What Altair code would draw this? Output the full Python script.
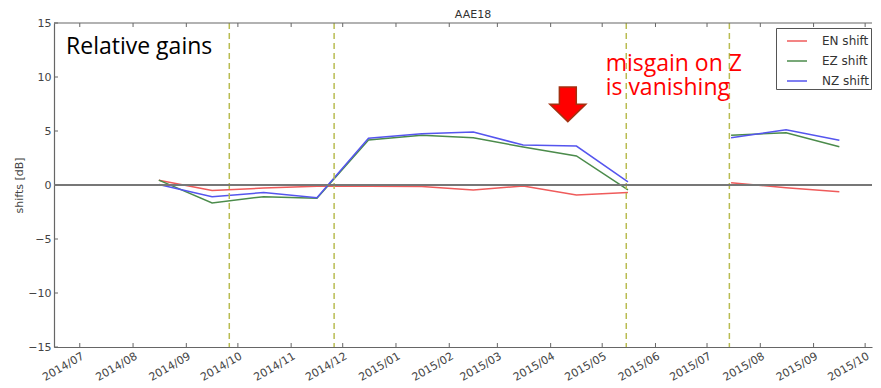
import altair as alt
import pandas as pd

# ---------------- data ----------------
dates = ["2014-08-16", "2014-09-16", "2014-10-16", "2014-11-16", "2014-12-16",
         "2015-01-16", "2015-02-15", "2015-03-16", "2015-04-16", "2015-05-16",
         "2015-07-15", "2015-08-16", "2015-09-16"]
segment = [0, 0, 0, 0, 0, 0, 0, 0, 0, 0, 1, 1, 1]
en_shift = [0.45, -0.50, -0.28, -0.12, -0.12, -0.15, -0.46, -0.10, -0.93, -0.70, 0.21, -0.25, -0.62]
ez_shift = [0.45, -1.67, -1.08, -1.23, 4.17, 4.60, 4.38, 3.52, 2.69, -0.46, 4.60, 4.84, 3.55]
nz_shift = [0.05, -1.08, -0.70, -1.17, 4.32, 4.75, 4.90, 3.70, 3.60, 0.30, 4.38, 5.12, 4.14]

series_names = ["EN shift", "EZ shift", "NZ shift"]
series_colors = ["#ef5b5b", "#4b8b4b", "#5555ee"]

event_dates = ["2014-09-26", "2014-11-26", "2015-05-15", "2015-07-14"]
month_starts = ["2014-07-01", "2014-08-01", "2014-09-01", "2014-10-01", "2014-11-01",
                "2014-12-01", "2015-01-01", "2015-02-01", "2015-03-01", "2015-04-01",
                "2015-05-01", "2015-06-01", "2015-07-01", "2015-08-01", "2015-09-01",
                "2015-10-01"]
y_ticks = [-15, -10, -5, 0, 5, 10, 15]

title_text = "AAE18"
y_title = "shifts [dB]"
note_black = ["Relative gains"]
note_black_date = ["2014-06-23"]
note_black_value = [12.1]
note_red = ["misgain on Z\nis vanishing"]
note_red_date = ["2015-05-03"]
note_red_value = [10.6]
arrow_date = ["2015-04-11"]
arrow_value = [7.47]

# ---------------- tables ----------------
rows = []
for name, vals in zip(series_names, [en_shift, ez_shift, nz_shift]):
    for d, s, v in zip(dates, segment, vals):
        rows.append({"date": d, "seg": f"{name}-{s}", "series": name, "value": v})
df = pd.DataFrame(rows)

W, H = 818, 324
FRAME = "#666666"

xscale = alt.Scale(type="utc", domain=[alt.DateTime(year=2014, month=6, date=16, utc=True),
                                       alt.DateTime(year=2015, month=10, date=5, utc=True)])
yscale = alt.Scale(domain=[-15, 15], nice=False, zero=False)

month_vals = [alt.DateTime(year=int(m[:4]), month=int(m[5:7]), date=1, utc=True) for m in month_starts]

x_axis = alt.Axis(title=None, values=month_vals, labelExpr="utcFormat(datum.value, '%Y/%m')",
                  labelAngle=330, labelAlign="right", labelBaseline="top",
                  labelFont="DejaVu Sans", labelFontSize=11, labelColor="#444444",
                  labelPadding=3, labelOverlap=False, labelFlush=False,
                  ticks=False, domain=True, domainColor=FRAME, domainWidth=1.2, grid=False)
y_axis = alt.Axis(title=y_title, values=y_ticks, titleFont="DejaVu Sans", titleFontSize=11,
                  titleFontWeight="normal", titleColor="#444444", titlePadding=3,
                  labelFont="DejaVu Sans", labelFontSize=11, labelColor="#444444",
                  labelPadding=3, ticks=False, domain=True, domainColor=FRAME,
                  domainWidth=1.2, grid=False)


def X(field):
    return alt.X(field, scale=xscale, axis=x_axis)


def Y(field):
    return alt.Y(field, scale=yscale, axis=y_axis)


lines = alt.Chart(df).mark_line(strokeWidth=1.5).encode(
    x=X("date:T"),
    y=Y("value:Q"),
    color=alt.Color("series:N", scale=alt.Scale(domain=series_names, range=series_colors),
                    legend=alt.Legend(title=None, orient="none", legendX=722, legendY=5,
                                      direction="vertical", symbolType="stroke",
                                      symbolSize=400, symbolStrokeWidth=1.5,
                                      labelFont="DejaVu Sans", labelFontSize=12,
                                      labelColor="#333333", strokeColor="#555555",
                                      fillColor="white", padding=2, rowPadding=3,
                                      symbolOffset=8, labelOffset=14, cornerRadius=0)),
    detail="seg:N",
)

events = alt.Chart(pd.DataFrame({"date": event_dates})).mark_rule(
    color="#b9bc52", strokeWidth=1.5, strokeDash=[6, 4]
).encode(x=X("date:T"))

months_df = pd.DataFrame({"date": month_starts})
ticks_bottom = alt.Chart(months_df).mark_rule(color=FRAME, strokeWidth=1).encode(
    x=X("date:T"), y=alt.value(H), y2=alt.value(H - 4))
ticks_top = alt.Chart(months_df).mark_rule(color=FRAME, strokeWidth=1).encode(
    x=X("date:T"), y=alt.value(0), y2=alt.value(4))
ticks_left = alt.Chart(pd.DataFrame({"value": y_ticks})).mark_rule(color=FRAME, strokeWidth=1).encode(
    y=Y("value:Q"), x=alt.value(0), x2=alt.value(4))
top_border = alt.Chart(pd.DataFrame({"value": [15]})).mark_rule(color=FRAME, strokeWidth=1.2).encode(
    y=Y("value:Q"), x=alt.value(0), x2=alt.value(W))

zero_line = alt.Chart(pd.DataFrame({"value": [0]})).mark_rule(color="#777777", strokeWidth=2).encode(
    y=Y("value:Q"))

black_txt = alt.Chart(pd.DataFrame({"date": note_black_date, "value": note_black_value,
                                    "t": note_black})).mark_text(
    align="left", baseline="alphabetic", font="Open Sans", fontSize=23, color="black"
).encode(x=X("date:T"), y=Y("value:Q"), text="t:N")

red_txt = alt.Chart(pd.DataFrame({"date": note_red_date, "value": note_red_value,
                                  "t": note_red})).mark_text(
    align="left", baseline="alphabetic", font="Open Sans", fontSize=23, color="#ff0000",
    lineBreak="\n", lineHeight=24
).encode(x=X("date:T"), y=Y("value:Q"), text="t:N")

title_mark = alt.Chart(pd.DataFrame({"t": [title_text]})).mark_text(
    align="center", baseline="alphabetic", font="DejaVu Sans", fontSize=11, color="#333333"
).encode(x=alt.value(W / 2 + 10), y=alt.value(-5), text="t:N")

arrow_path = "M -0.47 -0.96 L 0.47 -0.96 L 0.47 0 L 1 0 L 0 0.96 L -1 0 L -0.47 0 Z"
arrow = alt.Chart(pd.DataFrame({"date": arrow_date, "value": arrow_value})).mark_point(
    shape=arrow_path, size=1296, filled=True, fill="#ff0000", stroke="#a33010",
    strokeWidth=1.5, opacity=1
).encode(x=X("date:T"), y=Y("value:Q"))

chart = alt.layer(
    lines, events, ticks_bottom, ticks_top, ticks_left, top_border, zero_line,
    black_txt, red_txt, arrow, title_mark
).properties(
    width=W, height=H,
    autosize=alt.AutoSizeParams(type="none"),
    padding={"left": 46, "top": 15, "right": 1, "bottom": 37},
).configure_view(stroke=None)

chart.save("out.html", embed_options={"renderer": "svg", "actions": False})
